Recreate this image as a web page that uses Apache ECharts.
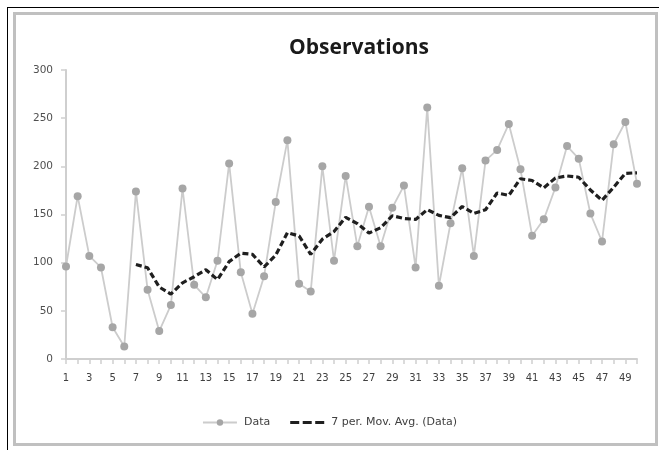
<!DOCTYPE html>
<html>
<head>
<meta charset="utf-8">
<script src="https://cdn.jsdelivr.net/npm/echarts@6/dist/echarts.min.js"></script>
<style>
html,body{margin:0;padding:0;background:#fff;}
#frame{position:absolute;left:7px;top:7px;width:652px;height:443px;border-left:1px solid #000;border-top:1px solid #000;box-sizing:border-box;}
#inner{position:absolute;left:13px;top:12px;width:645px;height:434px;border:3px solid #c0c0c0;box-sizing:border-box;}
#chart{position:absolute;left:0;top:0;width:659px;height:450px;}
</style>
</head>
<body>
<div id="frame"></div>
<div id="inner"></div>
<div id="chart"></div>
<script>
const categories = Array.from({length: 50}, (_, i) => String(i + 1));
const dataValues = [96,169,107,95,33,13,174,72,29,56,177,77,64,102,203,90,47,86,163,227,78,70,200,102,190,117,158,117,157,180,95,261,76,141,198,107,206,217,244,197,128,145,178,221,208,151,122,223,246,182];
const movAvgValues = [null,null,null,null,null,null,98.1,94.7,74.7,67.4,79.1,85.4,92.7,82.4,101.1,109.9,108.6,95.6,107.9,131.1,127.7,108.7,124.4,132.3,147.1,140.6,130.7,136.3,148.7,145.9,144.9,155.0,149.1,146.7,158.3,151.1,154.9,172.3,169.9,187.1,185.3,177.7,187.9,190.0,188.7,175.4,164.7,178.3,192.7,193.3];
const yTicks = {min: 0, max: 300, interval: 50};
const titleText = 'Observations';
const seriesNames = ['Data', '7 per. Mov. Avg. (Data)'];

const dashIcon = 'path://M0,0L0.01,0L0,0.01Z M0,8L0.01,8L0,7.99Z M0,2.6H9V5.4H0Z M12.5,2.6H21.5V5.4H12.5Z M25,2.6H34V5.4H25Z';

const chart = echarts.init(document.getElementById('chart'), null, {renderer: 'canvas'});
chart.setOption({
  animation: false,
  backgroundColor: 'transparent',
  title: {
    text: titleText,
    left: 354, top: 33, textAlign: 'center',
    textStyle: {fontFamily: 'Open Sans', fontWeight: 'bold', fontSize: 21, color: '#1a1a1a'}
  },
  legend: {
    bottom: 17, left: 'center', itemGap: 20, itemWidth: 34, itemHeight: 8,
    textStyle: {fontFamily: 'DejaVu Sans', fontSize: 11, color: '#404040', padding: [0, 0, 0, 2]},
    data: [seriesNames[0], {name: seriesNames[1], icon: dashIcon}]
  },
  grid: {left: 66, right: 22, top: 70, bottom: 91, containLabel: false},
  xAxis: {
    type: 'category', data: categories, boundaryGap: false,
    axisLine: {lineStyle: {color: '#cfcfcf', width: 2}},
    axisTick: {show: true, interval: 0, length: 5, lineStyle: {color: '#cfcfcf', width: 1.5}},
    axisLabel: {interval: 1, fontFamily: 'DejaVu Sans', fontSize: 10, color: '#404040', margin: 14}
  },
  yAxis: {
    type: 'value', min: yTicks.min, max: yTicks.max, interval: yTicks.interval,
    axisLine: {show: true, lineStyle: {color: '#cfcfcf', width: 2}},
    axisTick: {show: true, length: 5, lineStyle: {color: '#cfcfcf', width: 1.5}},
    splitLine: {show: false},
    axisLabel: {fontFamily: 'DejaVu Sans', fontSize: 10.5, color: '#505050', margin: 13}
  },
  series: [
    {
      name: seriesNames[0], type: 'line', data: dataValues,
      symbol: 'circle', symbolSize: 8, showAllSymbol: true,
      itemStyle: {color: '#a6a6a6'},
      lineStyle: {color: '#cccccc', width: 1.8},
      z: 2
    },
    {
      name: seriesNames[1], type: 'line', data: movAvgValues,
      symbol: 'none', connectNulls: false,
      itemStyle: {color: '#1f1f1f'},
      lineStyle: {color: '#1f1f1f', width: 3.2, type: [6, 3]},
      z: 3
    }
  ]
});
</script>
</body>
</html>
